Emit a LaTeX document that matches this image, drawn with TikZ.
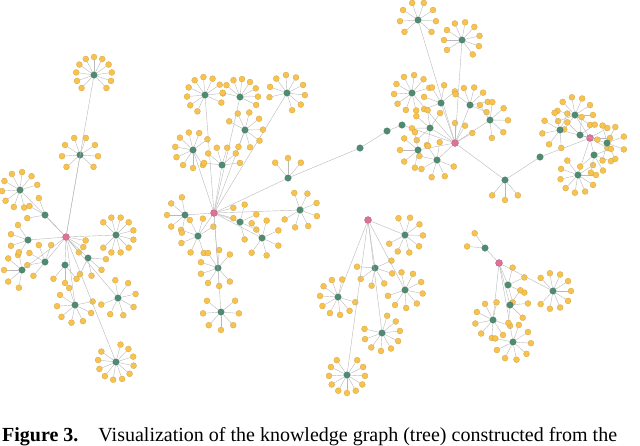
\documentclass[tikz,border=0pt]{standalone}
\usepackage{fontspec}
\setmainfont{Liberation Serif}
\usetikzlibrary{calc}
\definecolor{yel}{HTML}{F7C34E}
\definecolor{grn}{HTML}{4E8C72}
\definecolor{pnk}{HTML}{E0709A}
\tikzset{
 yl/.style={circle,fill=yel,draw=yel!80!black,line width=0.2pt,inner sep=0pt,minimum size=6pt},
 gn/.style={circle,fill=grn,draw=grn!70!black,line width=0.2pt,inner sep=0pt,minimum size=6.5pt},
 pk/.style={circle,fill=pnk,draw=pnk!70!black,line width=0.2pt,inner sep=0pt,minimum size=7pt},
 edge/.style={draw=gray!55,line width=0.4pt}
}
% name, x, y, parent, n leaves, direction, span
\newcommand\hubnode[7]{%
 \node[gn] (#1) at (#2,#3) {};
 \draw[edge] (#4) -- (#1);
 \foreach \i in {1,...,#5}{%
  \pgfmathsetmacro\ang{#6-#7/2+#7*(\i-0.5)/#5}
  \node[yl] (#1-\i) at ($(#1)+(\ang:18)$) {};
  \draw[edge] (#1) -- (#1-\i);
 }}
\newcommand\leaves[4]{% name, n, dir, span
 \foreach \i in {1,...,#2}{%
  \pgfmathsetmacro\ang{#3-#4/2+#4*(\i-0.5)/#2}
  \node[yl] (#1-l\i) at ($(#1)+(\ang:20)$) {};
  \draw[edge] (#1) -- (#1-l\i);
 }}
\begin{document}
\begin{tikzpicture}[x=1pt,y=-1pt]
\useasboundingbox (0,0) rectangle (640,445);
% ---------- Tree A
\node[pk] (A) at (66,237) {};
\leaves{A}{3}{30}{60}
\hubnode{a1}{80}{155}{A}{8}{-90}{300}
\hubnode{a2}{94}{75}{A}{11}{-90}{300}
\hubnode{a3}{20}{190}{A}{9}{-150}{300}
\hubnode{a4}{116}{235}{A}{10}{0}{300}
\hubnode{a5}{45}{215}{A}{3}{-150}{120}
\hubnode{a6}{28}{240}{A}{4}{180}{150}
\hubnode{a7}{45}{262}{A}{5}{-150}{200}
\hubnode{a8}{65}{265}{A}{3}{90}{120}
\hubnode{a9}{88}{258}{A}{4}{60}{150}
\hubnode{a10}{75}{305}{A}{8}{120}{300}
\hubnode{a11}{118}{298}{A}{7}{30}{300}
\hubnode{a12}{116}{362}{A}{11}{70}{320}
\hubnode{a13}{22}{270}{A}{5}{180}{200}
% ---------- Tree B
\node[pk] (B) at (214,213) {};
\leaves{B}{2}{0}{60}
\hubnode{b1}{205}{95}{B}{10}{-110}{300}
\hubnode{b2}{240}{97}{B}{8}{-70}{220}
\hubnode{b3}{287}{93}{B}{9}{-60}{300}
\hubnode{b4}{245}{130}{B}{8}{-20}{300}
\hubnode{b5}{193}{150}{B}{9}{-170}{300}
\hubnode{b6}{222}{165}{B}{6}{-90}{200}
\hubnode{b7}{300}{210}{B}{7}{20}{300}
\hubnode{b8}{240}{222}{B}{4}{0}{200}
\hubnode{b9}{198}{236}{B}{7}{-160}{300}
\hubnode{b10}{218}{268}{B}{8}{180}{300}
\hubnode{b11}{221}{312}{B}{7}{90}{300}
\hubnode{b12}{262}{238}{B}{6}{0}{300}
\hubnode{b13}{185}{215}{B}{5}{180}{200}
\node[gn] (c1) at (288,178) {}; \draw[edge] (B) -- (c1);
\node[gn] (c2) at (360,148) {}; \draw[edge] (c1) -- (c2);
\node[gn] (c3) at (387,131) {}; \draw[edge] (c2) -- (c3);
\node[gn] (c4) at (402,125) {}; \draw[edge] (c3) -- (c4);
\leaves{c1}{3}{-90}{120}
% ---------- Tree C
\node[pk] (C) at (455,143) {};
\draw[edge] (c4) -- (C);
\leaves{C}{3}{-60}{90}
\hubnode{k1}{412}{93}{C}{9}{-150}{300}
\hubnode{k2}{462}{40}{C}{9}{-80}{300}
\hubnode{k3}{418}{20}{C}{8}{-90}{300}
\hubnode{k4}{437}{160}{C}{7}{150}{300}
\hubnode{k5}{441}{103}{C}{5}{-120}{200}
\hubnode{k6}{470}{105}{C}{6}{-60}{200}
\hubnode{k7}{430}{128}{C}{6}{-160}{250}
\hubnode{k8}{490}{120}{C}{6}{-20}{250}
\hubnode{k9}{418}{150}{C}{5}{180}{200}
\node[gn] (k10) at (505,180) {}; \draw[edge] (C) -- (k10);
\leaves{k10}{3}{90}{120}
\node[gn] (d0) at (540,157) {}; \draw[edge] (k10) -- (d0);
% ---------- Tree D
\node[pk] (D) at (590,138) {};
\draw[edge] (d0) -- (D);
\leaves{D}{3}{0}{90}
\hubnode{d1}{575}{115}{D}{9}{-100}{300}
\hubnode{d2}{560}{130}{D}{6}{-170}{250}
\hubnode{d3}{578}{175}{D}{9}{100}{300}
\hubnode{d4}{607}{143}{D}{6}{0}{250}
\hubnode{d5}{594}{155}{D}{5}{60}{200}
\hubnode{d6}{580}{135}{D}{4}{-60}{200}
% ---------- Tree E
\node[pk] (E) at (368,220) {};
\hubnode{e1}{405}{235}{E}{8}{20}{300}
\hubnode{e2}{375}{268}{E}{6}{80}{250}
\hubnode{e3}{338}{297}{E}{9}{150}{300}
\hubnode{e4}{405}{290}{E}{8}{30}{300}
\hubnode{e5}{382}{333}{E}{9}{60}{300}
\hubnode{e6}{347}{375}{E}{11}{90}{320}
% ---------- Tree F
\node[pk] (F) at (499,263) {};
\hubnode{f1}{485}{248}{F}{2}{-150}{100}
\hubnode{f2}{508}{285}{F}{4}{0}{200}
\hubnode{f3}{553}{291}{F}{9}{0}{300}
\hubnode{f4}{493}{320}{F}{8}{150}{300}
\hubnode{f5}{513}{342}{F}{8}{60}{300}
\hubnode{f6}{510}{305}{F}{4}{20}{200}
% ---------- caption
\node[anchor=base west,inner sep=0pt,font=\fontsize{20}{24}\selectfont] (cap) at (2,441)
 {\textbf{Figure 3.}\quad Visualization of the knowledge graph (tree) constructed from the};
\end{tikzpicture}
\end{document}
